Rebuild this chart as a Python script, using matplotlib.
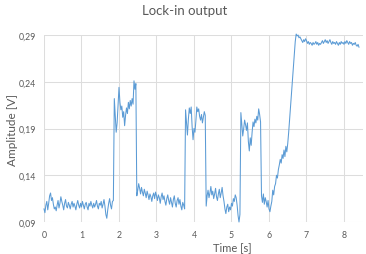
import numpy as np
import matplotlib
matplotlib.use("Agg")
import matplotlib.pyplot as plt

dt = 0.025
seg_starts = [0.0, 1.875, 2.475, 3.775, 4.325, 5.25, 5.8, 6.525, 6.75]

seg_a = [0.104,0.100,0.108,0.112,0.103,0.110,0.118,0.121,0.113,0.116,
         0.109,0.104,0.106,0.102,0.108,0.113,0.105,0.110,0.117,0.112,
         0.108,0.103,0.110,0.114,0.107,0.105,0.111,0.108,0.104,0.109,
         0.112,0.106,0.110,0.107,0.103,0.109,0.113,0.108,0.105,0.110,
         0.106,0.112,0.108,0.104,0.109,0.111,0.106,0.103,0.110,0.107,
         0.112,0.108,0.105,0.110,0.106,0.109,0.113,0.107,0.104,0.110,
         0.108,0.112,0.105,0.109,0.114,0.107,0.098,0.094,0.103,0.110,
         0.115,0.108,0.104,0.112,0.113]
seg_b = [0.222,0.205,0.186,0.196,0.215,0.234,0.218,0.210,0.214,0.202,
         0.208,0.193,0.204,0.212,0.206,0.218,0.211,0.220,0.214,0.222,
         0.216,0.241,0.232,0.238]
seg_c = [0.118,0.124,0.131,0.126,0.120,0.127,0.122,0.118,0.125,0.121,
         0.116,0.123,0.119,0.114,0.120,0.117,0.112,0.118,0.121,0.115,
         0.122,0.118,0.113,0.119,0.116,0.110,0.117,0.121,0.114,0.118,
         0.112,0.108,0.115,0.119,0.113,0.109,0.116,0.111,0.106,0.114,
         0.118,0.110,0.106,0.113,0.116,0.109,0.114,0.107,0.103,0.111,
         0.108,0.104]
seg_d = [0.210,0.196,0.183,0.200,0.212,0.206,0.213,0.192,0.178,0.190,
         0.186,0.198,0.213,0.208,0.211,0.203,0.199,0.205,0.196,0.202,
         0.208,0.204]
seg_e = [0.107,0.118,0.124,0.116,0.121,0.128,0.119,0.123,0.115,0.120,
         0.126,0.117,0.113,0.120,0.125,0.116,0.121,0.127,0.118,0.112,
         0.104,0.099,0.106,0.109,0.101,0.106,0.103,0.110,0.107,0.115,
         0.112,0.119,0.116,0.108,0.097,0.090,0.098]
seg_f = [0.207,0.195,0.182,0.190,0.199,0.194,0.188,0.196,0.176,0.166,
         0.180,0.172,0.186,0.197,0.192,0.200,0.196,0.203,0.199,0.211,
         0.205,0.197]
seg_g = [0.118,0.111,0.120,0.109,0.116,0.112,0.106,0.113,0.104,0.101,
         0.107,0.112,0.124,0.119,0.128,0.131,0.140,0.137,0.146,0.151,
         0.157,0.153,0.162,0.158,0.167,0.160,0.171,0.165,0.174]
seg_h = [0.186,0.200,0.214,0.228,0.242,0.256,0.270,0.283,0.291]
seg_i = [0.289,0.290,0.287,0.288,0.286,0.284,0.282,0.285,0.283,0.286,
         0.284,0.281,0.283,0.280,0.282,0.281,0.279,0.282,0.280,0.281,
         0.283,0.280,0.282,0.279,0.281,0.280,0.282,0.284,0.281,0.283,
         0.285,0.282,0.284,0.281,0.283,0.285,0.282,0.280,0.283,0.281,
         0.282,0.280,0.283,0.281,0.279,0.282,0.280,0.283,0.281,0.282,
         0.280,0.283,0.281,0.284,0.282,0.280,0.283,0.281,0.282,0.279,
         0.281,0.280,0.282,0.279,0.278,0.280,0.277]

segments = [seg_a, seg_b, seg_c, seg_d, seg_e, seg_f, seg_g, seg_h, seg_i]

y_ticks = [0.09, 0.14, 0.19, 0.24, 0.29]
y_tick_labels = ["0,09", "0,14", "0,19", "0,24", "0,29"]
x_ticks = [0, 1, 2, 3, 4, 5, 6, 7, 8]

t_all, v_all = [], []
for start, vals in zip(seg_starts, segments):
    t_all.extend(start + dt * np.arange(len(vals)))
    v_all.extend(vals)

plt.rcParams['font.family'] = ['Lato', 'DejaVu Sans']

fig = plt.figure(figsize=(3.66, 2.55), dpi=100)
ax = fig.add_axes([0.1202, 0.1255, 0.8709, 0.7333])

ax.plot(t_all, v_all, color="#5B9BD5", lw=0.75, clip_on=False, zorder=3)

ax.set_xlim(0, 8.5)
ax.set_ylim(0.09, 0.29)
ax.set_xticks(x_ticks)
ax.set_xticklabels([str(v) for v in x_ticks])
ax.set_yticks(y_ticks)
ax.set_yticklabels(y_tick_labels)
ax.grid(True, color="#DDDDDD", lw=0.75)
ax.set_axisbelow(True)
for s in ax.spines.values():
    s.set_visible(False)
ax.tick_params(axis="y", length=0, labelsize=6.3, colors="#595959", pad=6)
ax.tick_params(axis="x", length=0, labelsize=6.3, colors="#595959", pad=6)

ax.set_xlabel("Time [s]", fontsize=8, color="#595959")
ax.xaxis.set_label_coords(0.59, -0.10)
ax.set_ylabel("Amplitude [V]", fontsize=8.5, color="#595959")
ax.yaxis.set_label_coords(-0.083, 0.5)
fig.text(0.505, 0.955, "Lock-in output", ha="center", va="center",
         fontsize=9.5, color="#595959")

fig.savefig("out.png", dpi=100)
